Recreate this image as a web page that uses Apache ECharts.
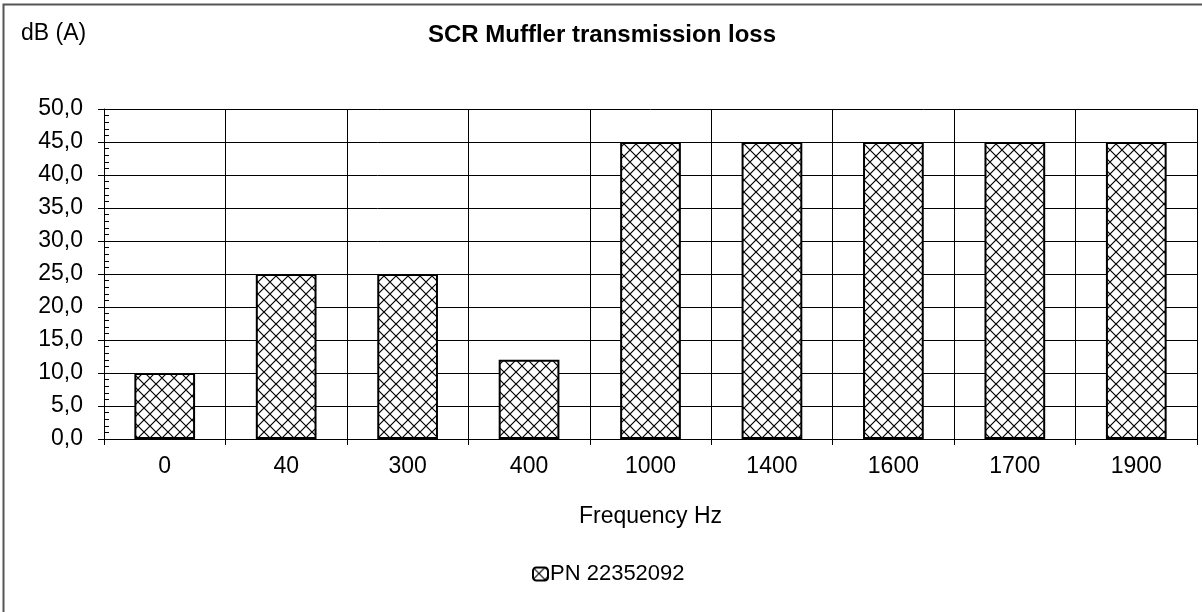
<!DOCTYPE html>
<html>
<head>
<meta charset="utf-8">
<title>SCR Muffler transmission loss</title>
<script src="https://cdn.jsdelivr.net/npm/echarts@6/dist/echarts.min.js"></script>
<style>
  html, body { margin: 0; padding: 0; background: #fff; }
  #main { width: 1202px; height: 612px; }
</style>
</head>
<body>
<div id="main"></div>
<script>
// chart data
var categories = ['0', '40', '300', '400', '1000', '1400', '1600', '1700', '1900'];
var lossValues = [10, 25, 25, 12, 45, 45, 45, 45, 45];
var seriesName = 'PN 22352092';

// crosshatch fill like the original
function makeHatch() {
  var c = document.createElement('canvas');
  c.width = 12; c.height = 12;
  var ctx = c.getContext('2d');
  ctx.fillStyle = '#fff';
  ctx.fillRect(0, 0, 12, 12);
  ctx.strokeStyle = '#000';
  ctx.lineWidth = 1.2;
  ctx.beginPath();
  ctx.moveTo(0, 0); ctx.lineTo(12, 12);
  ctx.moveTo(12, 0); ctx.lineTo(0, 12);
  ctx.stroke();
  return c;
}
var hatch = { image: makeHatch(), repeat: 'repeat' };

var font = 'Liberation Sans, Arial, sans-serif';
var myChart = echarts.init(document.getElementById('main'));

var option = {
  backgroundColor: '#fff',
  animation: false,
  textStyle: { fontFamily: font },
  title: {
    text: 'SCR Muffler transmission loss',
    left: 597, top: 18, textAlign: 'center',
    textStyle: { fontFamily: font, fontSize: 24, fontWeight: 'bold', color: '#000' }
  },
  legend: {
    data: [seriesName],
    left: 527, top: 558,
    itemWidth: 15, itemHeight: 13, itemGap: 3,
    textStyle: { fontFamily: font, fontSize: 22, color: '#000', padding: [0, 0, 0, -3] }
  },
  grid: { left: 104, top: 109, right: 5, bottom: 173 },
  graphic: [
    {
      type: 'rect', silent: true, z: -1,
      shape: { x: 3.5, y: 4.5, width: 1220, height: 640 },
      style: { fill: 'none', stroke: '#555', lineWidth: 2 }
    },
    {
      type: 'text', left: 21, top: 22,
      style: { text: 'dB (A)', font: '23px ' + font, fill: '#000' }
    }
  ],
  xAxis: {
    type: 'category',
    data: categories,
    name: 'Frequency Hz',
    nameLocation: 'middle',
    nameGap: 66,
    nameTextStyle: { fontFamily: font, fontSize: 23, color: '#000' },
    axisLine: { lineStyle: { color: '#000', width: 1 } },
    axisTick: { show: true, length: 6, lineStyle: { color: '#000' } },
    axisLabel: { fontFamily: font, fontSize: 23, color: '#000', margin: 16 },
    splitLine: { show: true, lineStyle: { color: '#000', width: 1 } }
  },
  yAxis: [
    {
      type: 'value',
      min: 0, max: 50, interval: 5,
      axisLine: { show: true, lineStyle: { color: '#000' } },
      axisTick: { show: true, length: 6, lineStyle: { color: '#000' } },
      axisLabel: {
        fontFamily: font, fontSize: 23, color: '#000', margin: 21,
        formatter: function (v) { return v.toFixed(1).replace('.', ','); }
      },
      splitLine: { show: true, lineStyle: { color: '#000', width: 1 } }
    },
    {
      type: 'value',
      position: 'left',
      min: 0, max: 50, interval: 5,
      axisLine: { show: false },
      axisTick: { show: false, inside: true },
      axisLabel: { show: false },
      splitLine: { show: false },
      minorTick: { show: true, splitNumber: 5, length: 5, lineStyle: { color: '#000' } }
    }
  ],
  series: [{
    name: seriesName,
    type: 'bar',
    data: lossValues,
    barWidth: '50%',
    itemStyle: { color: hatch, borderColor: '#000', borderWidth: 2 }
  }]
};

myChart.setOption(option);
</script>
</body>
</html>
